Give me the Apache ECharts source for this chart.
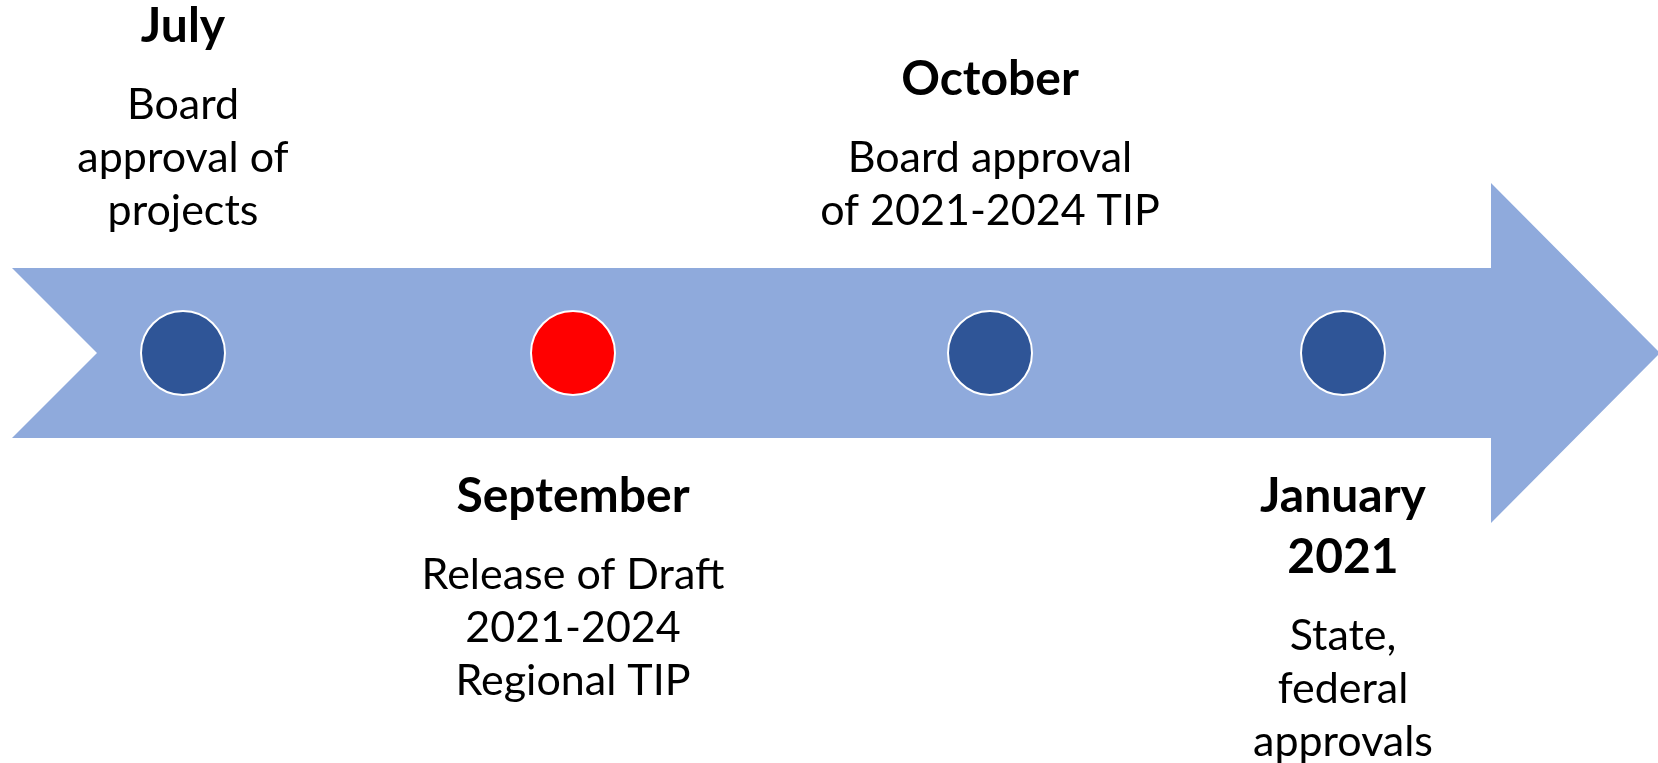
<!DOCTYPE html>
<html>
<head>
<meta charset="utf-8">
<script src="https://cdn.jsdelivr.net/npm/echarts@6/dist/echarts.min.js"></script>
<style>
  html, body { margin: 0; padding: 0; background: #fff; }
  #main { width: 1658px; height: 763px; }
</style>
</head>
<body>
<div id="main"></div>
<script>
// milestones along the timeline
var months = ['July', 'September', 'October', 'January\n2021'];
var notes = [
  ['Board', 'approval of', 'projects'],
  ['Release of Draft', '2021-2024', 'Regional TIP'],
  ['Board approval', 'of 2021-2024 TIP'],
  ['State,', 'federal', 'approvals']
];
var positions = [183, 573, 990, 1343];
var sides = ['top', 'bottom', 'top', 'bottom'];
var dotColors = ['#2F5597', '#FF0000', '#2F5597', '#2F5597'];

// arrow outline (x, y) in axis units
var arrowX = [12, 1491, 1491, 1660, 1491, 1491, 12, 97];
var arrowY = [268, 268, 183, 353, 523, 438, 438, 353];
var lineY = 353;

var chart = echarts.init(document.getElementById('main'));

function label(i) {
  var lines = [];
  months[i].split('\n').forEach(function (m) { lines.push('{h|' + m + '}'); });
  lines.push('{s| }');
  notes[i].forEach(function (n) { lines.push('{b|' + n + '}'); });
  return lines.join('\n');
}

var points = positions.map(function (x, i) {
  return {
    value: [x, lineY],
    itemStyle: { color: dotColors[i] },
    label: {
      position: sides[i],
      distance: sides[i] === 'top' ? 72 : 70,
      formatter: label(i)
    }
  };
});

var option = {
  backgroundColor: '#ffffff',
  animation: false,
  grid: { left: 0, right: 0, top: 0, bottom: 0 },
  xAxis: { type: 'value', min: 0, max: 1658, show: false },
  yAxis: { type: 'value', min: 0, max: 763, inverse: true, show: false },
  series: [
    {
      type: 'custom',
      silent: true,
      data: [0],
      renderItem: function (params, api) {
        var pts = arrowX.map(function (x, k) { return api.coord([x, arrowY[k]]); });
        return {
          type: 'polygon',
          shape: { points: pts },
          style: { fill: '#8FAADC' }
        };
      }
    },
    {
      type: 'scatter',
      symbol: 'circle',
      symbolSize: 84,
      itemStyle: { borderColor: '#ffffff', borderWidth: 2, opacity: 1 },
      label: {
        show: true,
        align: 'center',
        color: '#000',
        fontFamily: 'Lato',
        rich: {
          h: { fontSize: 48, fontWeight: 'bold', fontFamily: 'Lato', lineHeight: 61, color: '#000', align: 'center' },
          s: { fontSize: 4, lineHeight: 22 },
          b: { fontSize: 43, fontFamily: 'Lato', lineHeight: 53, color: '#000', align: 'center' }
        }
      },
      data: points
    }
  ]
};

chart.setOption(option);
</script>
</body>
</html>
